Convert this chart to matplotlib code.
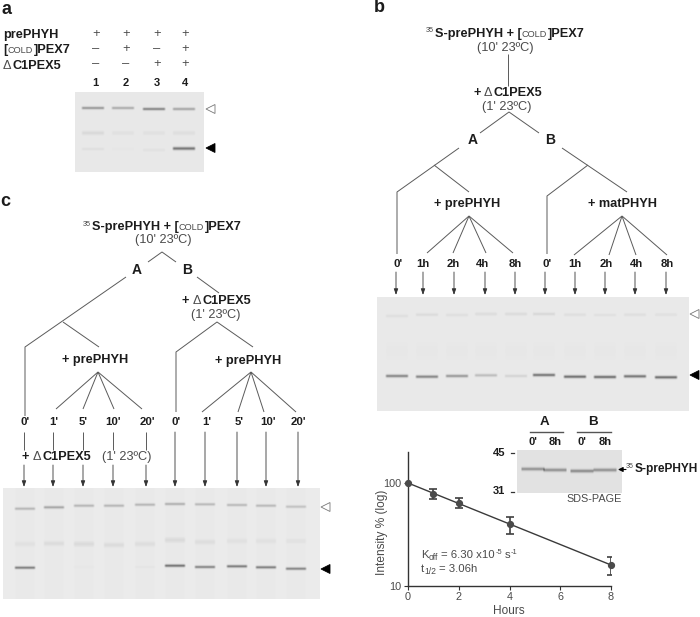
import numpy as np
import matplotlib
matplotlib.use("Agg")
import matplotlib.pyplot as plt

W, H = 700, 617
plt.rcParams['font.family'] = ['Liberation Sans', 'DejaVu Sans']

# =========================
# DATA
# =========================
hours = [0, 1, 2, 4, 8]
intensity = [100, 78, 64, 40, 16]
err_low = [0, 8, 7, 8, 3.3]
err_high = [0, 9, 7.5, 7, 3]
fit_hours = [0, 8]
fit_intensity = [100, 16]

signs_a = [['+', '+', '+', '+'],
           ['–', '+', '–', '+'],
           ['–', '–', '+', '+']]
lanes_a = ['1', '2', '3', '4']

times_b = ["0'", "1h", "2h", "4h", "8h", "0'", "1h", "2h", "4h", "8h"]
times_c = ["0'", "1'", "5'", "10'", "20'", "0'", "1'", "5'", "10'", "20'"]

# band strength per lane (0-1) read from the gels
a_upper = [0.50, 0.38, 0.62, 0.42]
a_mid = [0.10, 0.05, 0.05, 0.07]
a_lower = [0.06, 0.02, 0.05, 0.72]
b_upper = [0.07, 0.09, 0.07, 0.08, 0.09, 0.11, 0.07, 0.06, 0.07, 0.06]
b_lower = [0.62, 0.62, 0.50, 0.28, 0.14, 0.72, 0.75, 0.75, 0.72, 0.75]
c_upper = [0.32, 0.42, 0.32, 0.32, 0.32, 0.36, 0.30, 0.30, 0.30, 0.25]
c_mid = [0.06, 0.09, 0.10, 0.09, 0.08, 0.10, 0.08, 0.06, 0.06, 0.05]
c_lower = [0.66, 0.0, 0.02, 0.0, 0.03, 0.74, 0.62, 0.68, 0.66, 0.62]
inset_band = [0.50, 0.52, 0.55, 0.52]

fig = plt.figure(figsize=(W / 100, H / 100), dpi=100)
ax = fig.add_axes([0, 0, 1, 1])
ax.set_xlim(0, W)
ax.set_ylim(H, 0)
ax.axis('off')

DARK = '#1c1c1c'
SOFT = '#4a4a4a'
LINE = '#5a5a5a'
BOLD = 9.2
SMALL = 6.6


# =========================
# HELPERS
# =========================
def label(x, y, s, size=BOLD, bold=True, ha='center', color=None):
    return ax.text(x, y, s, fontsize=size, fontweight='bold' if bold else 'normal',
                   ha=ha, va='center', color=color or (DARK if bold else SOFT))


def runs(x, y, parts):
    # pieces of text set one after the other, numbers are gaps in pixels
    r = fig.canvas.get_renderer()
    for p in parts:
        if not isinstance(p, tuple):
            x += p
            continue
        s, size, bold, dy = p
        t = label(x, y + dy, s, size=size, bold=bold, ha='left')
        x += t.get_window_extent(r).width + 0.6
    return x


def tree_title(x, y):
    runs(x, y, [('35', 5.2, False, -3), ('S-prePHYH + [', BOLD, True, 0),
                ('COLD', SMALL, False, 0.4), (']PEX7', BOLD, True, 0)])


def delta_pex5(x, y):
    runs(x, y, [('+', BOLD, True, 0), 3, ('Δ', BOLD, False, 0), ('C1PEX5', BOLD, True, 0)])


def lines(*paths):
    for p in paths:
        ax.plot([q[0] for q in p], [q[1] for q in p], color=LINE, lw=0.7,
                solid_capstyle='butt', zorder=2)


def fan(apex, ends):
    for e in ends:
        lines([apex, e])


def arrow(x, y0, y1):
    ax.annotate('', xy=(x, y1), xytext=(x, y0),
                arrowprops=dict(arrowstyle='-|>,head_width=0.14,head_length=0.4',
                                color='#333333', lw=0.6, shrinkA=0, shrinkB=0,
                                mutation_scale=9))


def marker(x, y, filled):
    ax.fill([x, x + 9, x + 9], [y, y - 4.5, y + 4.5],
            facecolor='black' if filled else 'white',
            edgecolor='black' if filled else '#777777', lw=0.6, zorder=3)


def gel(x0, x1, y0, y1, base, lane_x, lane_w, bands, smear=0.0):
    # bands: (y per lane, strength per lane, thickness)
    yy, xx = np.mgrid[y0:y1, x0:x1]
    img = np.full(yy.shape, float(base))
    for i, lx in enumerate(lane_x):
        win = np.clip((lane_w / 2 - np.abs(xx + 0.5 - lx)) / 2.0 + 0.5, 0, 1)
        if smear:
            img -= smear * win
        for ys, strength, sig in bands:
            prof = np.exp(-((yy + 0.5 - ys[i]) / sig) ** 2)
            img -= 150 * strength[i] * prof * win
    ax.imshow(img, extent=(x0, x1, y1, y0), cmap='gray', vmin=0, vmax=255,
              interpolation='bilinear', aspect='auto', zorder=1)


# =========================
# PANEL A
# =========================
label(6, 9, 'a', size=13)
col_a = [96, 126, 157, 185]
label(3, 35, 'prePHYH', ha='left')
runs(3, 50, [('[', BOLD, True, 0), ('COLD', SMALL, False, 0.4), (']PEX7', BOLD, True, 0)])
runs(3, 66, [('Δ', BOLD, False, 0), ('C1PEX5', BOLD, True, 0)])
for row_y, row in zip([34, 49, 64], signs_a):
    for cx, s in zip(col_a, row):
        label(cx, row_y, s, size=9.4, bold=False)
for cx, s in zip(col_a, lanes_a):
    label(cx - 0.5, 83, s, size=8)

lanes_x_a = [93, 123, 154, 184]
gel(75, 204, 92, 172, 232, lanes_x_a, 22,
    [([108, 108, 109, 109], a_upper, 1.4),
     ([133, 133, 133, 133], a_mid, 2.0),
     ([149, 149, 150, 148.5], a_lower, 1.6)])
marker(206, 109, False)
marker(206, 148, True)

# =========================
# PANEL B
# =========================
label(379, 8, 'b', size=13)
tree_title(426, 34)
label(505, 48, "(10' 23ºC)", bold=False)
lines([(508, 54), (508, 86)])
delta_pex5(473, 93)
label(507, 107, "(1' 23ºC)", bold=False)
lines([(480, 133), (509, 112), (539, 133)])
label(473, 140, 'A', size=10)
label(550, 140, 'B', size=10)
lines([(459, 148), (397, 192), (397, 254)], [(434, 165), (469, 192)])
lines([(562, 148), (627, 192)], [(588, 165), (547, 196), (547, 254)])
label(467, 204, '+ prePHYH')
label(622, 204, '+ matPHYH')
fan((469, 216), [(427, 253), (453, 253), (486, 253), (513, 253)])
fan((622, 216), [(574, 255), (609, 255), (636, 255), (667, 255)])
for tx, s in zip([398, 423, 453, 483, 515, 547, 575, 606, 636, 667], times_b):
    label(tx, 264, s, size=8.2)
for tx in [396, 423, 454, 485, 515, 545, 575, 605, 635, 666]:
    arrow(tx, 272, 295)

lanes_x_b = [397, 427, 457, 486, 516, 544, 575, 605, 635, 666]
b_up_y = [316, 314.7, 315, 314, 314, 314, 314.7, 315, 314.7, 314.7]
b_low_y = [376, 376.7, 376, 375.3, 376, 375, 376.7, 377, 376.3, 377.3]
gel(377, 689, 297, 411, 233, lanes_x_b, 22,
    [(b_up_y, b_upper, 1.6),
     ([351] * 10, [0.018] * 10, 9.0),
     (b_low_y, b_lower, 1.5)])
marker(690, 314, False)
marker(690, 375, True)

# inset SDS-PAGE
lanes_x_in = [533, 555, 582, 605]
gel(517, 622, 450, 493, 226, lanes_x_in, 23,
    [([469, 470, 471, 470], inset_band, 1.7)])
label(544, 422, 'A', size=9.6)
label(593, 422, 'B', size=9.6)
ax.plot([530, 563], [432, 432], color='#555555', lw=1.0)
ax.plot([577, 611], [432, 432], color='#555555', lw=1.0)
for tx, s in zip(lanes_x_in, ["0'", "8h", "0'", "8h"]):
    label(tx, 442, s, size=8)
label(499, 453, '45', size=8)
label(499, 491, '31', size=8)
ax.plot([511, 514], [453, 453], color='#333333', lw=0.9)
ax.plot([511, 514], [492, 492], color='#333333', lw=0.9)
ax.annotate('', xy=(618, 469.5), xytext=(626, 469.5),
            arrowprops=dict(arrowstyle='-|>,head_width=0.2,head_length=0.4', color='black',
                            lw=0.8, shrinkA=0, shrinkB=0, mutation_scale=7))
runs(626, 469, [('35', 5.0, False, -3), ('S-prePHYH', 8.6, True, 0)])
label(594, 499, 'SDS-PAGE', size=7.8, bold=False)

# =========================
# GRAFICO
# =========================
top_px, bot_px = 452, 586
left_px, right_px = 408, 611
pl = fig.add_axes([left_px / W, 1 - bot_px / H, (right_px - left_px) / W, (bot_px - top_px) / H])
pl.patch.set_alpha(0)
pl.set_yscale('log')
pl.set_xlim(0, 8)
pl.set_ylim(10, 10 ** (2 + 31 / 103))
pl.plot(fit_hours, fit_intensity, color='#3a3a3a', lw=1.0, zorder=3, clip_on=False)
pl.errorbar(hours[1:], intensity[1:], yerr=[err_low[1:], err_high[1:]], fmt='none',
            ecolor='#404040', elinewidth=1.2, capsize=3, capthick=1.2, zorder=4)
pl.plot(hours, intensity, 'o', color='#4a4a4a', ms=4.2, zorder=5, clip_on=False)
for side in ['top', 'right']:
    pl.spines[side].set_visible(False)
for side in ['left', 'bottom']:
    pl.spines[side].set_color('#333333')
    pl.spines[side].set_linewidth(1.0)
pl.set_xticks([0, 2, 4, 6, 8])
pl.set_yticks([10, 100])
pl.set_yticklabels(['10', '100'])
pl.minorticks_off()
pl.tick_params(axis='both', labelsize=7.8, colors='#333333', labelcolor=SOFT,
               length=3, width=0.8, pad=1.5)
ax.text(382, 532, 'Intensity % (log)', rotation=90, fontsize=8.6, color=SOFT,
        ha='center', va='center')
label(509, 611, 'Hours', size=8.6, bold=False)
runs(421, 555, [('K', 8.2, False, 0), ('off', 6.2, False, 2.5), 2, ('= 6.30 x10', 8.2, False, 0),
                ('-5', 5.4, False, -3), 2, ('s', 8.2, False, 0), ('-1', 5.4, False, -3)])
runs(421, 569, [('t', 8.2, False, 0), ('1/2', 6.2, False, 2.5), 2, ('= 3.06h', 8.2, False, 0)])

# =========================
# PANEL C
# =========================
label(5, 201, 'c', size=13)
tree_title(83, 227)
label(163, 240, "(10' 23ºC)", bold=False)
lines([(148, 262), (162, 252), (176, 262)])
label(137, 270, 'A', size=10)
label(187, 270, 'B', size=10)
lines([(126, 277), (25, 347), (25, 416)], [(63, 322), (99, 347)])
lines([(197, 277), (219, 293)])
delta_pex5(182, 301)
label(216, 315, "(1' 23ºC)", bold=False)
lines([(253, 347), (217, 322), (176, 352), (176, 412)])
label(95, 360, '+ prePHYH')
label(248, 361, '+ prePHYH')
fan((98, 372), [(56, 409), (83, 409), (114, 409), (142, 409)])
fan((251, 372), [(202, 412), (238, 412), (264, 412), (296, 412)])
for tx, s in zip([25, 54, 83, 113, 147, 176, 207, 239, 268, 298], times_c):
    label(tx, 422, s, size=8.2)

arrows_c = [24, 53, 83, 113, 146, 175, 205, 237, 266, 298]
for tx in arrows_c[:5]:
    lines([(tx, 432), (tx, 450)])
    arrow(tx, 465, 487)
for tx in arrows_c[5:]:
    arrow(tx, 432, 487)
delta_pex5(22, 457)
label(127, 457, "(1' 23ºC)", bold=False)

lanes_x_c = [25, 54, 84, 114, 145, 175, 205, 237, 266, 296]
c_up_y = [508.7, 507.3, 505.7, 505.7, 504.7, 504, 504.3, 505, 505.7, 506.7]
c_mid_y = [544, 543.5, 544, 545, 544, 540, 542, 541, 541, 541]
c_low_y = [567.7, 567, 567, 567, 567, 565.7, 567, 566.3, 567.3, 568.7]
gel(3, 320, 488, 599, 235, lanes_x_c, 20,
    [(c_up_y, c_upper, 1.4),
     (c_mid_y, c_mid, 2.4),
     (c_low_y, c_lower, 1.4)], smear=2)
marker(321, 507, False)
marker(321, 569, True)

fig.savefig('out.png', dpi=100)
